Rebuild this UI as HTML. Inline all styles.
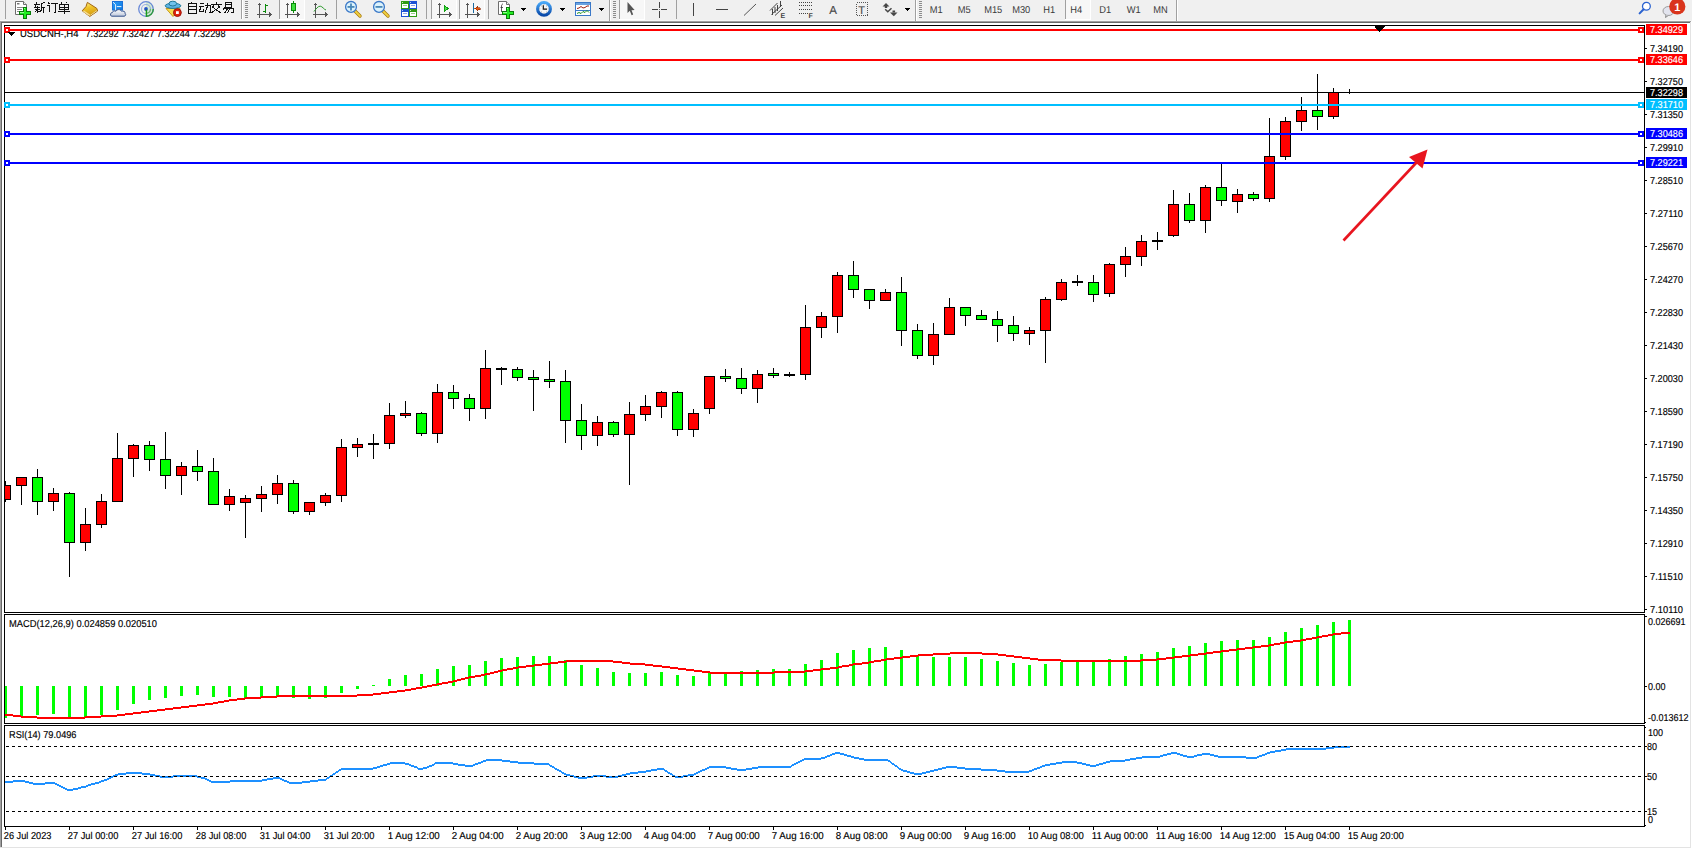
<!DOCTYPE html>
<html><head><meta charset="utf-8"><title>MT4 USDCNH H4</title>
<style>
html,body{margin:0;padding:0;background:#fff;overflow:hidden;width:1692px;height:849px}
svg{display:block;position:absolute;left:0;top:0}
text{font-family:"Liberation Sans",sans-serif;white-space:pre;stroke-width:0.15px}
</style></head><body>
<svg width="1692" height="849" viewBox="0 0 1692 849" shape-rendering="crispEdges" text-rendering="geometricPrecision">
<rect x="0" y="0" width="1692" height="849" fill="#ffffff"/>
<rect x="0" y="0" width="1692" height="21" fill="#f0f0f0"/>
<rect x="0" y="20" width="1691" height="1" fill="#f7f7f7"/>
<rect x="0" y="21" width="1691" height="1" fill="#a0a0a0"/>
<rect x="1" y="22" width="1689" height="1" fill="#696969"/>
<rect x="0" y="21" width="1" height="827" fill="#a0a0a0"/>
<rect x="1" y="22" width="1" height="825" fill="#696969"/>
<rect x="1690" y="22" width="1" height="826" fill="#e3e3e3"/>
<rect x="0" y="847" width="1691" height="1" fill="#e3e3e3"/>
<rect x="4" y="25" width="1641" height="1" fill="#000"/>
<rect x="4" y="612" width="1641" height="1" fill="#000"/>
<rect x="4" y="25" width="1" height="588" fill="#000"/>
<rect x="1644" y="25" width="1" height="588" fill="#000"/>
<rect x="4" y="614" width="1641" height="1" fill="#000"/>
<rect x="4" y="723" width="1641" height="1" fill="#000"/>
<rect x="4" y="614" width="1" height="110" fill="#000"/>
<rect x="1644" y="614" width="1" height="110" fill="#000"/>
<rect x="4" y="725" width="1641" height="1" fill="#000"/>
<rect x="4" y="826" width="1641" height="1" fill="#000"/>
<rect x="4" y="725" width="1" height="102" fill="#000"/>
<rect x="1644" y="725" width="1" height="102" fill="#000"/>
<text x="20" y="37" fill="#000" stroke="#000" font-size="10" textLength="58.5" lengthAdjust="spacingAndGlyphs" stroke-width="0.1">USDCNH-,H4</text>
<text x="85.5" y="37" fill="#000" stroke="#000" font-size="10" textLength="140" lengthAdjust="spacingAndGlyphs" stroke-width="0.1">7.32292 7.32427 7.32244 7.32298</text>
<g>
<rect x="5" y="481" width="1" height="21" fill="#000"/>
<rect x="5" y="485" width="6" height="15" fill="#000"/>
<rect x="5" y="486" width="5" height="13" fill="#ff0000"/>
<rect x="21" y="477" width="1" height="28" fill="#000"/>
<rect x="16" y="477" width="11" height="9" fill="#000"/>
<rect x="17" y="478" width="9" height="7" fill="#ff0000"/>
<rect x="37" y="469" width="1" height="46" fill="#000"/>
<rect x="32" y="477" width="11" height="25" fill="#000"/>
<rect x="33" y="478" width="9" height="23" fill="#00ff00"/>
<rect x="53" y="488" width="1" height="23" fill="#000"/>
<rect x="48" y="493" width="11" height="9" fill="#000"/>
<rect x="49" y="494" width="9" height="7" fill="#ff0000"/>
<rect x="69" y="492" width="1" height="85" fill="#000"/>
<rect x="64" y="493" width="11" height="50" fill="#000"/>
<rect x="65" y="494" width="9" height="48" fill="#00ff00"/>
<rect x="85" y="508" width="1" height="43" fill="#000"/>
<rect x="80" y="524" width="11" height="19" fill="#000"/>
<rect x="81" y="525" width="9" height="17" fill="#ff0000"/>
<rect x="101" y="494" width="1" height="34" fill="#000"/>
<rect x="96" y="501" width="11" height="24" fill="#000"/>
<rect x="97" y="502" width="9" height="22" fill="#ff0000"/>
<rect x="117" y="433" width="1" height="69" fill="#000"/>
<rect x="112" y="458" width="11" height="44" fill="#000"/>
<rect x="113" y="459" width="9" height="42" fill="#ff0000"/>
<rect x="133" y="444" width="1" height="33" fill="#000"/>
<rect x="128" y="445" width="11" height="14" fill="#000"/>
<rect x="129" y="446" width="9" height="12" fill="#ff0000"/>
<rect x="149" y="441" width="1" height="30" fill="#000"/>
<rect x="144" y="445" width="11" height="15" fill="#000"/>
<rect x="145" y="446" width="9" height="13" fill="#00ff00"/>
<rect x="165" y="432" width="1" height="57" fill="#000"/>
<rect x="160" y="459" width="11" height="17" fill="#000"/>
<rect x="161" y="460" width="9" height="15" fill="#00ff00"/>
<rect x="181" y="462" width="1" height="33" fill="#000"/>
<rect x="176" y="466" width="11" height="10" fill="#000"/>
<rect x="177" y="467" width="9" height="8" fill="#ff0000"/>
<rect x="197" y="450" width="1" height="31" fill="#000"/>
<rect x="192" y="466" width="11" height="6" fill="#000"/>
<rect x="193" y="467" width="9" height="4" fill="#00ff00"/>
<rect x="213" y="458" width="1" height="46" fill="#000"/>
<rect x="208" y="471" width="11" height="34" fill="#000"/>
<rect x="209" y="472" width="9" height="32" fill="#00ff00"/>
<rect x="229" y="489" width="1" height="22" fill="#000"/>
<rect x="224" y="496" width="11" height="9" fill="#000"/>
<rect x="225" y="497" width="9" height="7" fill="#ff0000"/>
<rect x="245" y="495" width="1" height="43" fill="#000"/>
<rect x="240" y="498" width="11" height="5" fill="#000"/>
<rect x="241" y="499" width="9" height="3" fill="#ff0000"/>
<rect x="261" y="486" width="1" height="26" fill="#000"/>
<rect x="256" y="494" width="11" height="5" fill="#000"/>
<rect x="257" y="495" width="9" height="3" fill="#ff0000"/>
<rect x="277" y="475" width="1" height="29" fill="#000"/>
<rect x="272" y="483" width="11" height="12" fill="#000"/>
<rect x="273" y="484" width="9" height="10" fill="#ff0000"/>
<rect x="293" y="480" width="1" height="34" fill="#000"/>
<rect x="288" y="483" width="11" height="29" fill="#000"/>
<rect x="289" y="484" width="9" height="27" fill="#00ff00"/>
<rect x="309" y="502" width="1" height="13" fill="#000"/>
<rect x="304" y="502" width="11" height="10" fill="#000"/>
<rect x="305" y="503" width="9" height="8" fill="#ff0000"/>
<rect x="325" y="493" width="1" height="13" fill="#000"/>
<rect x="320" y="495" width="11" height="8" fill="#000"/>
<rect x="321" y="496" width="9" height="6" fill="#ff0000"/>
<rect x="341" y="439" width="1" height="63" fill="#000"/>
<rect x="336" y="447" width="11" height="49" fill="#000"/>
<rect x="337" y="448" width="9" height="47" fill="#ff0000"/>
<rect x="357" y="438" width="1" height="19" fill="#000"/>
<rect x="352" y="444" width="11" height="4" fill="#000"/>
<rect x="353" y="445" width="9" height="2" fill="#ff0000"/>
<rect x="373" y="434" width="1" height="25" fill="#000"/>
<rect x="368" y="443" width="11" height="2" fill="#000"/>
<rect x="389" y="403" width="1" height="46" fill="#000"/>
<rect x="384" y="415" width="11" height="29" fill="#000"/>
<rect x="385" y="416" width="9" height="27" fill="#ff0000"/>
<rect x="405" y="401" width="1" height="17" fill="#000"/>
<rect x="400" y="413" width="11" height="3" fill="#000"/>
<rect x="401" y="414" width="9" height="1" fill="#ff0000"/>
<rect x="421" y="412" width="1" height="24" fill="#000"/>
<rect x="416" y="413" width="11" height="21" fill="#000"/>
<rect x="417" y="414" width="9" height="19" fill="#00ff00"/>
<rect x="437" y="384" width="1" height="59" fill="#000"/>
<rect x="432" y="392" width="11" height="42" fill="#000"/>
<rect x="433" y="393" width="9" height="40" fill="#ff0000"/>
<rect x="453" y="385" width="1" height="24" fill="#000"/>
<rect x="448" y="392" width="11" height="7" fill="#000"/>
<rect x="449" y="393" width="9" height="5" fill="#00ff00"/>
<rect x="469" y="394" width="1" height="27" fill="#000"/>
<rect x="464" y="398" width="11" height="11" fill="#000"/>
<rect x="465" y="399" width="9" height="9" fill="#00ff00"/>
<rect x="485" y="350" width="1" height="69" fill="#000"/>
<rect x="480" y="368" width="11" height="41" fill="#000"/>
<rect x="481" y="369" width="9" height="39" fill="#ff0000"/>
<rect x="501" y="367" width="1" height="18" fill="#000"/>
<rect x="496" y="368" width="11" height="2" fill="#000"/>
<rect x="517" y="367" width="1" height="14" fill="#000"/>
<rect x="512" y="369" width="11" height="9" fill="#000"/>
<rect x="513" y="370" width="9" height="7" fill="#00ff00"/>
<rect x="533" y="370" width="1" height="41" fill="#000"/>
<rect x="528" y="377" width="11" height="3" fill="#000"/>
<rect x="529" y="378" width="9" height="1" fill="#00ff00"/>
<rect x="549" y="361" width="1" height="27" fill="#000"/>
<rect x="544" y="379" width="11" height="3" fill="#000"/>
<rect x="545" y="380" width="9" height="1" fill="#00ff00"/>
<rect x="565" y="370" width="1" height="73" fill="#000"/>
<rect x="560" y="381" width="11" height="40" fill="#000"/>
<rect x="561" y="382" width="9" height="38" fill="#00ff00"/>
<rect x="581" y="404" width="1" height="46" fill="#000"/>
<rect x="576" y="420" width="11" height="16" fill="#000"/>
<rect x="577" y="421" width="9" height="14" fill="#00ff00"/>
<rect x="597" y="416" width="1" height="30" fill="#000"/>
<rect x="592" y="422" width="11" height="14" fill="#000"/>
<rect x="593" y="423" width="9" height="12" fill="#ff0000"/>
<rect x="613" y="421" width="1" height="16" fill="#000"/>
<rect x="608" y="422" width="11" height="13" fill="#000"/>
<rect x="609" y="423" width="9" height="11" fill="#00ff00"/>
<rect x="629" y="402" width="1" height="83" fill="#000"/>
<rect x="624" y="414" width="11" height="21" fill="#000"/>
<rect x="625" y="415" width="9" height="19" fill="#ff0000"/>
<rect x="645" y="395" width="1" height="26" fill="#000"/>
<rect x="640" y="406" width="11" height="9" fill="#000"/>
<rect x="641" y="407" width="9" height="7" fill="#ff0000"/>
<rect x="661" y="391" width="1" height="27" fill="#000"/>
<rect x="656" y="392" width="11" height="15" fill="#000"/>
<rect x="657" y="393" width="9" height="13" fill="#ff0000"/>
<rect x="677" y="391" width="1" height="45" fill="#000"/>
<rect x="672" y="392" width="11" height="38" fill="#000"/>
<rect x="673" y="393" width="9" height="36" fill="#00ff00"/>
<rect x="693" y="409" width="1" height="28" fill="#000"/>
<rect x="688" y="413" width="11" height="17" fill="#000"/>
<rect x="689" y="414" width="9" height="15" fill="#ff0000"/>
<rect x="709" y="376" width="1" height="38" fill="#000"/>
<rect x="704" y="376" width="11" height="33" fill="#000"/>
<rect x="705" y="377" width="9" height="31" fill="#ff0000"/>
<rect x="725" y="369" width="1" height="13" fill="#000"/>
<rect x="720" y="376" width="11" height="3" fill="#000"/>
<rect x="721" y="377" width="9" height="1" fill="#00ff00"/>
<rect x="741" y="368" width="1" height="26" fill="#000"/>
<rect x="736" y="378" width="11" height="11" fill="#000"/>
<rect x="737" y="379" width="9" height="9" fill="#00ff00"/>
<rect x="757" y="370" width="1" height="33" fill="#000"/>
<rect x="752" y="374" width="11" height="15" fill="#000"/>
<rect x="753" y="375" width="9" height="13" fill="#ff0000"/>
<rect x="773" y="368" width="1" height="10" fill="#000"/>
<rect x="768" y="373" width="11" height="3" fill="#000"/>
<rect x="769" y="374" width="9" height="1" fill="#00ff00"/>
<rect x="789" y="372" width="1" height="5" fill="#000"/>
<rect x="784" y="374" width="11" height="2" fill="#000"/>
<rect x="805" y="305" width="1" height="75" fill="#000"/>
<rect x="800" y="327" width="11" height="48" fill="#000"/>
<rect x="801" y="328" width="9" height="46" fill="#ff0000"/>
<rect x="821" y="312" width="1" height="26" fill="#000"/>
<rect x="816" y="316" width="11" height="12" fill="#000"/>
<rect x="817" y="317" width="9" height="10" fill="#ff0000"/>
<rect x="837" y="272" width="1" height="61" fill="#000"/>
<rect x="832" y="275" width="11" height="42" fill="#000"/>
<rect x="833" y="276" width="9" height="40" fill="#ff0000"/>
<rect x="853" y="261" width="1" height="37" fill="#000"/>
<rect x="848" y="275" width="11" height="15" fill="#000"/>
<rect x="849" y="276" width="9" height="13" fill="#00ff00"/>
<rect x="869" y="289" width="1" height="20" fill="#000"/>
<rect x="864" y="289" width="11" height="12" fill="#000"/>
<rect x="865" y="290" width="9" height="10" fill="#00ff00"/>
<rect x="885" y="289" width="1" height="12" fill="#000"/>
<rect x="880" y="292" width="11" height="9" fill="#000"/>
<rect x="881" y="293" width="9" height="7" fill="#ff0000"/>
<rect x="901" y="277" width="1" height="69" fill="#000"/>
<rect x="896" y="292" width="11" height="39" fill="#000"/>
<rect x="897" y="293" width="9" height="37" fill="#00ff00"/>
<rect x="917" y="324" width="1" height="35" fill="#000"/>
<rect x="912" y="330" width="11" height="26" fill="#000"/>
<rect x="913" y="331" width="9" height="24" fill="#00ff00"/>
<rect x="933" y="323" width="1" height="42" fill="#000"/>
<rect x="928" y="334" width="11" height="22" fill="#000"/>
<rect x="929" y="335" width="9" height="20" fill="#ff0000"/>
<rect x="949" y="298" width="1" height="36" fill="#000"/>
<rect x="944" y="307" width="11" height="28" fill="#000"/>
<rect x="945" y="308" width="9" height="26" fill="#ff0000"/>
<rect x="965" y="307" width="1" height="19" fill="#000"/>
<rect x="960" y="307" width="11" height="9" fill="#000"/>
<rect x="961" y="308" width="9" height="7" fill="#00ff00"/>
<rect x="981" y="310" width="1" height="10" fill="#000"/>
<rect x="976" y="315" width="11" height="5" fill="#000"/>
<rect x="977" y="316" width="9" height="3" fill="#00ff00"/>
<rect x="997" y="311" width="1" height="31" fill="#000"/>
<rect x="992" y="319" width="11" height="7" fill="#000"/>
<rect x="993" y="320" width="9" height="5" fill="#00ff00"/>
<rect x="1013" y="316" width="1" height="25" fill="#000"/>
<rect x="1008" y="325" width="11" height="9" fill="#000"/>
<rect x="1009" y="326" width="9" height="7" fill="#00ff00"/>
<rect x="1029" y="327" width="1" height="18" fill="#000"/>
<rect x="1024" y="330" width="11" height="4" fill="#000"/>
<rect x="1025" y="331" width="9" height="2" fill="#ff0000"/>
<rect x="1045" y="297" width="1" height="66" fill="#000"/>
<rect x="1040" y="299" width="11" height="32" fill="#000"/>
<rect x="1041" y="300" width="9" height="30" fill="#ff0000"/>
<rect x="1061" y="279" width="1" height="22" fill="#000"/>
<rect x="1056" y="282" width="11" height="18" fill="#000"/>
<rect x="1057" y="283" width="9" height="16" fill="#ff0000"/>
<rect x="1077" y="275" width="1" height="11" fill="#000"/>
<rect x="1072" y="281" width="11" height="2" fill="#000"/>
<rect x="1093" y="275" width="1" height="27" fill="#000"/>
<rect x="1088" y="282" width="11" height="13" fill="#000"/>
<rect x="1089" y="283" width="9" height="11" fill="#00ff00"/>
<rect x="1109" y="263" width="1" height="34" fill="#000"/>
<rect x="1104" y="264" width="11" height="30" fill="#000"/>
<rect x="1105" y="265" width="9" height="28" fill="#ff0000"/>
<rect x="1125" y="247" width="1" height="30" fill="#000"/>
<rect x="1120" y="256" width="11" height="9" fill="#000"/>
<rect x="1121" y="257" width="9" height="7" fill="#ff0000"/>
<rect x="1141" y="235" width="1" height="31" fill="#000"/>
<rect x="1136" y="241" width="11" height="16" fill="#000"/>
<rect x="1137" y="242" width="9" height="14" fill="#ff0000"/>
<rect x="1157" y="232" width="1" height="18" fill="#000"/>
<rect x="1152" y="240" width="11" height="2" fill="#000"/>
<rect x="1173" y="190" width="1" height="47" fill="#000"/>
<rect x="1168" y="204" width="11" height="32" fill="#000"/>
<rect x="1169" y="205" width="9" height="30" fill="#ff0000"/>
<rect x="1189" y="193" width="1" height="30" fill="#000"/>
<rect x="1184" y="204" width="11" height="17" fill="#000"/>
<rect x="1185" y="205" width="9" height="15" fill="#00ff00"/>
<rect x="1205" y="185" width="1" height="48" fill="#000"/>
<rect x="1200" y="187" width="11" height="34" fill="#000"/>
<rect x="1201" y="188" width="9" height="32" fill="#ff0000"/>
<rect x="1221" y="164" width="1" height="42" fill="#000"/>
<rect x="1216" y="187" width="11" height="14" fill="#000"/>
<rect x="1217" y="188" width="9" height="12" fill="#00ff00"/>
<rect x="1237" y="189" width="1" height="24" fill="#000"/>
<rect x="1232" y="194" width="11" height="8" fill="#000"/>
<rect x="1233" y="195" width="9" height="6" fill="#ff0000"/>
<rect x="1253" y="192" width="1" height="9" fill="#000"/>
<rect x="1248" y="194" width="11" height="5" fill="#000"/>
<rect x="1249" y="195" width="9" height="3" fill="#00ff00"/>
<rect x="1269" y="118" width="1" height="84" fill="#000"/>
<rect x="1264" y="156" width="11" height="43" fill="#000"/>
<rect x="1265" y="157" width="9" height="41" fill="#ff0000"/>
<rect x="1285" y="117" width="1" height="43" fill="#000"/>
<rect x="1280" y="121" width="11" height="36" fill="#000"/>
<rect x="1281" y="122" width="9" height="34" fill="#ff0000"/>
<rect x="1301" y="97" width="1" height="34" fill="#000"/>
<rect x="1296" y="110" width="11" height="12" fill="#000"/>
<rect x="1297" y="111" width="9" height="10" fill="#ff0000"/>
<rect x="1317" y="74" width="1" height="56" fill="#000"/>
<rect x="1312" y="110" width="11" height="7" fill="#000"/>
<rect x="1313" y="111" width="9" height="5" fill="#00ff00"/>
<rect x="1333" y="88" width="1" height="31" fill="#000"/>
<rect x="1328" y="92" width="11" height="25" fill="#000"/>
<rect x="1329" y="93" width="9" height="23" fill="#ff0000"/>
<rect x="1349" y="89" width="1" height="5" fill="#000"/>
<rect x="1344" y="92" width="11" height="1" fill="#000"/>
</g>
<rect x="5" y="92" width="1639" height="1" fill="#000"/>
<rect x="5" y="29" width="1639" height="2" fill="#ff0000"/>
<rect x="4" y="27" width="6" height="6" fill="#ff0000"/>
<rect x="6" y="29" width="2" height="2" fill="#fff"/>
<rect x="1638" y="27" width="6" height="6" fill="#ff0000"/>
<rect x="1640" y="29" width="2" height="2" fill="#fff"/>
<rect x="5" y="59" width="1639" height="2" fill="#ff0000"/>
<rect x="4" y="57" width="6" height="6" fill="#ff0000"/>
<rect x="6" y="59" width="2" height="2" fill="#fff"/>
<rect x="1638" y="57" width="6" height="6" fill="#ff0000"/>
<rect x="1640" y="59" width="2" height="2" fill="#fff"/>
<rect x="5" y="104" width="1639" height="2" fill="#00bfff"/>
<rect x="4" y="102" width="6" height="6" fill="#00bfff"/>
<rect x="6" y="104" width="2" height="2" fill="#fff"/>
<rect x="1638" y="102" width="6" height="6" fill="#00bfff"/>
<rect x="1640" y="104" width="2" height="2" fill="#fff"/>
<rect x="5" y="133" width="1639" height="2" fill="#0000ff"/>
<rect x="4" y="131" width="6" height="6" fill="#0000ff"/>
<rect x="6" y="133" width="2" height="2" fill="#fff"/>
<rect x="1638" y="131" width="6" height="6" fill="#0000ff"/>
<rect x="1640" y="133" width="2" height="2" fill="#fff"/>
<rect x="5" y="162" width="1639" height="2" fill="#0000ff"/>
<rect x="4" y="160" width="6" height="6" fill="#0000ff"/>
<rect x="6" y="162" width="2" height="2" fill="#fff"/>
<rect x="1638" y="160" width="6" height="6" fill="#0000ff"/>
<rect x="1640" y="162" width="2" height="2" fill="#fff"/>
<path d="M1376,25h9v2h-1v1h-1v1h-1v1h-1v1h-1v1h-1v-1h-1v-1h-1v-1h-1v-1h-1z" fill="#000"/>
<g shape-rendering="geometricPrecision"><line x1="1343.5" y1="240.5" x2="1417" y2="162" stroke="#e8151f" stroke-width="2.6"/><path d="M1427.5,149.5 L1409,157 L1422.5,168.5 Z" fill="#e8151f"/></g>
<g font-family="Liberation Sans, sans-serif">
<rect x="1645" y="48" width="2" height="1" fill="#000"/>
<text x="1650" y="52" fill="#000" stroke="#000" font-size="10" textLength="33" lengthAdjust="spacingAndGlyphs">7.34190</text>
<rect x="1645" y="81" width="2" height="1" fill="#000"/>
<text x="1650" y="85" fill="#000" stroke="#000" font-size="10" textLength="33" lengthAdjust="spacingAndGlyphs">7.32750</text>
<rect x="1645" y="114" width="2" height="1" fill="#000"/>
<text x="1650" y="118" fill="#000" stroke="#000" font-size="10" textLength="33" lengthAdjust="spacingAndGlyphs">7.31350</text>
<rect x="1645" y="147" width="2" height="1" fill="#000"/>
<text x="1650" y="151" fill="#000" stroke="#000" font-size="10" textLength="33" lengthAdjust="spacingAndGlyphs">7.29910</text>
<rect x="1645" y="180" width="2" height="1" fill="#000"/>
<text x="1650" y="184" fill="#000" stroke="#000" font-size="10" textLength="33" lengthAdjust="spacingAndGlyphs">7.28510</text>
<rect x="1645" y="213" width="2" height="1" fill="#000"/>
<text x="1650" y="217" fill="#000" stroke="#000" font-size="10" textLength="33" lengthAdjust="spacingAndGlyphs">7.27110</text>
<rect x="1645" y="246" width="2" height="1" fill="#000"/>
<text x="1650" y="250" fill="#000" stroke="#000" font-size="10" textLength="33" lengthAdjust="spacingAndGlyphs">7.25670</text>
<rect x="1645" y="279" width="2" height="1" fill="#000"/>
<text x="1650" y="283" fill="#000" stroke="#000" font-size="10" textLength="33" lengthAdjust="spacingAndGlyphs">7.24270</text>
<rect x="1645" y="312" width="2" height="1" fill="#000"/>
<text x="1650" y="316" fill="#000" stroke="#000" font-size="10" textLength="33" lengthAdjust="spacingAndGlyphs">7.22830</text>
<rect x="1645" y="345" width="2" height="1" fill="#000"/>
<text x="1650" y="349" fill="#000" stroke="#000" font-size="10" textLength="33" lengthAdjust="spacingAndGlyphs">7.21430</text>
<rect x="1645" y="378" width="2" height="1" fill="#000"/>
<text x="1650" y="382" fill="#000" stroke="#000" font-size="10" textLength="33" lengthAdjust="spacingAndGlyphs">7.20030</text>
<rect x="1645" y="411" width="2" height="1" fill="#000"/>
<text x="1650" y="415" fill="#000" stroke="#000" font-size="10" textLength="33" lengthAdjust="spacingAndGlyphs">7.18590</text>
<rect x="1645" y="444" width="2" height="1" fill="#000"/>
<text x="1650" y="448" fill="#000" stroke="#000" font-size="10" textLength="33" lengthAdjust="spacingAndGlyphs">7.17190</text>
<rect x="1645" y="477" width="2" height="1" fill="#000"/>
<text x="1650" y="481" fill="#000" stroke="#000" font-size="10" textLength="33" lengthAdjust="spacingAndGlyphs">7.15750</text>
<rect x="1645" y="510" width="2" height="1" fill="#000"/>
<text x="1650" y="514" fill="#000" stroke="#000" font-size="10" textLength="33" lengthAdjust="spacingAndGlyphs">7.14350</text>
<rect x="1645" y="543" width="2" height="1" fill="#000"/>
<text x="1650" y="547" fill="#000" stroke="#000" font-size="10" textLength="33" lengthAdjust="spacingAndGlyphs">7.12910</text>
<rect x="1645" y="576" width="2" height="1" fill="#000"/>
<text x="1650" y="580" fill="#000" stroke="#000" font-size="10" textLength="33" lengthAdjust="spacingAndGlyphs">7.11510</text>
<rect x="1645" y="609" width="2" height="1" fill="#000"/>
<text x="1650" y="613" fill="#000" stroke="#000" font-size="10" textLength="33" lengthAdjust="spacingAndGlyphs">7.10110</text>
<rect x="1646" y="24" width="41" height="11" fill="#ff0000"/>
<text x="1650" y="33" fill="#fff" stroke="#fff" font-size="10" textLength="33" lengthAdjust="spacingAndGlyphs">7.34929</text>
<rect x="1646" y="54" width="41" height="11" fill="#ff0000"/>
<text x="1650" y="63" fill="#fff" stroke="#fff" font-size="10" textLength="33" lengthAdjust="spacingAndGlyphs">7.33646</text>
<rect x="1646" y="87" width="41" height="11" fill="#000"/>
<text x="1650" y="96" fill="#fff" stroke="#fff" font-size="10" textLength="33" lengthAdjust="spacingAndGlyphs">7.32298</text>
<rect x="1646" y="99" width="41" height="11" fill="#00bfff"/>
<text x="1650" y="108" fill="#fff" stroke="#fff" font-size="10" textLength="33" lengthAdjust="spacingAndGlyphs">7.31710</text>
<rect x="1646" y="128" width="41" height="11" fill="#0000ff"/>
<text x="1650" y="137" fill="#fff" stroke="#fff" font-size="10" textLength="33" lengthAdjust="spacingAndGlyphs">7.30486</text>
<rect x="1646" y="157" width="41" height="11" fill="#0000ff"/>
<text x="1650" y="166" fill="#fff" stroke="#fff" font-size="10" textLength="33" lengthAdjust="spacingAndGlyphs">7.29221</text>
</g>
<path d="M8,32h7v1h-1v1h-1v1h-1v1h-1v-1h-1v-1h-1v-1h-1z" fill="#000"/>
<g>
<rect x="5" y="686" width="2" height="32" fill="#00ff00"/>
<rect x="20" y="686" width="3" height="30" fill="#00ff00"/>
<rect x="36" y="686" width="3" height="29" fill="#00ff00"/>
<rect x="52" y="686" width="3" height="28" fill="#00ff00"/>
<rect x="68" y="686" width="3" height="31" fill="#00ff00"/>
<rect x="84" y="686" width="3" height="31" fill="#00ff00"/>
<rect x="100" y="686" width="3" height="29" fill="#00ff00"/>
<rect x="116" y="686" width="3" height="24" fill="#00ff00"/>
<rect x="132" y="686" width="3" height="18" fill="#00ff00"/>
<rect x="148" y="686" width="3" height="14" fill="#00ff00"/>
<rect x="164" y="686" width="3" height="12" fill="#00ff00"/>
<rect x="180" y="686" width="3" height="10" fill="#00ff00"/>
<rect x="196" y="686" width="3" height="9" fill="#00ff00"/>
<rect x="212" y="686" width="3" height="11" fill="#00ff00"/>
<rect x="228" y="686" width="3" height="11" fill="#00ff00"/>
<rect x="244" y="686" width="3" height="12" fill="#00ff00"/>
<rect x="260" y="686" width="3" height="11" fill="#00ff00"/>
<rect x="276" y="686" width="3" height="10" fill="#00ff00"/>
<rect x="292" y="686" width="3" height="12" fill="#00ff00"/>
<rect x="308" y="686" width="3" height="13" fill="#00ff00"/>
<rect x="324" y="686" width="3" height="12" fill="#00ff00"/>
<rect x="340" y="686" width="3" height="7" fill="#00ff00"/>
<rect x="356" y="686" width="3" height="3" fill="#00ff00"/>
<rect x="372" y="685" width="3" height="1" fill="#00ff00"/>
<rect x="388" y="679" width="3" height="7" fill="#00ff00"/>
<rect x="404" y="675" width="3" height="11" fill="#00ff00"/>
<rect x="420" y="674" width="3" height="12" fill="#00ff00"/>
<rect x="436" y="669" width="3" height="17" fill="#00ff00"/>
<rect x="452" y="666" width="3" height="20" fill="#00ff00"/>
<rect x="468" y="665" width="3" height="21" fill="#00ff00"/>
<rect x="484" y="661" width="3" height="25" fill="#00ff00"/>
<rect x="500" y="658" width="3" height="28" fill="#00ff00"/>
<rect x="516" y="657" width="3" height="29" fill="#00ff00"/>
<rect x="532" y="656" width="3" height="30" fill="#00ff00"/>
<rect x="548" y="656" width="3" height="30" fill="#00ff00"/>
<rect x="564" y="660" width="3" height="26" fill="#00ff00"/>
<rect x="580" y="665" width="3" height="21" fill="#00ff00"/>
<rect x="596" y="668" width="3" height="18" fill="#00ff00"/>
<rect x="612" y="672" width="3" height="14" fill="#00ff00"/>
<rect x="628" y="673" width="3" height="13" fill="#00ff00"/>
<rect x="644" y="673" width="3" height="13" fill="#00ff00"/>
<rect x="660" y="672" width="3" height="14" fill="#00ff00"/>
<rect x="676" y="675" width="3" height="11" fill="#00ff00"/>
<rect x="692" y="676" width="3" height="10" fill="#00ff00"/>
<rect x="708" y="673" width="3" height="13" fill="#00ff00"/>
<rect x="724" y="673" width="3" height="13" fill="#00ff00"/>
<rect x="740" y="671" width="3" height="15" fill="#00ff00"/>
<rect x="756" y="670" width="3" height="16" fill="#00ff00"/>
<rect x="772" y="669" width="3" height="17" fill="#00ff00"/>
<rect x="788" y="669" width="3" height="17" fill="#00ff00"/>
<rect x="804" y="664" width="3" height="22" fill="#00ff00"/>
<rect x="820" y="660" width="3" height="26" fill="#00ff00"/>
<rect x="836" y="653" width="3" height="33" fill="#00ff00"/>
<rect x="852" y="650" width="3" height="36" fill="#00ff00"/>
<rect x="868" y="648" width="3" height="38" fill="#00ff00"/>
<rect x="884" y="647" width="3" height="39" fill="#00ff00"/>
<rect x="900" y="650" width="3" height="36" fill="#00ff00"/>
<rect x="916" y="655" width="3" height="31" fill="#00ff00"/>
<rect x="932" y="657" width="3" height="29" fill="#00ff00"/>
<rect x="948" y="657" width="3" height="29" fill="#00ff00"/>
<rect x="964" y="657" width="3" height="29" fill="#00ff00"/>
<rect x="980" y="659" width="3" height="27" fill="#00ff00"/>
<rect x="996" y="661" width="3" height="25" fill="#00ff00"/>
<rect x="1012" y="663" width="3" height="23" fill="#00ff00"/>
<rect x="1028" y="665" width="3" height="21" fill="#00ff00"/>
<rect x="1044" y="664" width="3" height="22" fill="#00ff00"/>
<rect x="1060" y="662" width="3" height="24" fill="#00ff00"/>
<rect x="1076" y="661" width="3" height="25" fill="#00ff00"/>
<rect x="1092" y="661" width="3" height="25" fill="#00ff00"/>
<rect x="1108" y="659" width="3" height="27" fill="#00ff00"/>
<rect x="1124" y="656" width="3" height="30" fill="#00ff00"/>
<rect x="1140" y="654" width="3" height="32" fill="#00ff00"/>
<rect x="1156" y="652" width="3" height="34" fill="#00ff00"/>
<rect x="1172" y="648" width="3" height="38" fill="#00ff00"/>
<rect x="1188" y="646" width="3" height="40" fill="#00ff00"/>
<rect x="1204" y="643" width="3" height="43" fill="#00ff00"/>
<rect x="1220" y="641" width="3" height="45" fill="#00ff00"/>
<rect x="1236" y="640" width="3" height="46" fill="#00ff00"/>
<rect x="1252" y="640" width="3" height="46" fill="#00ff00"/>
<rect x="1268" y="637" width="3" height="49" fill="#00ff00"/>
<rect x="1284" y="632" width="3" height="54" fill="#00ff00"/>
<rect x="1300" y="628" width="3" height="58" fill="#00ff00"/>
<rect x="1316" y="625" width="3" height="61" fill="#00ff00"/>
<rect x="1332" y="622" width="3" height="64" fill="#00ff00"/>
<rect x="1348" y="620" width="3" height="66" fill="#00ff00"/>
<clipPath id="cm"><rect x="5" y="615" width="1639" height="108"/></clipPath>
<rect x="5" y="714" width="8" height="2" fill="#ff0000"/>
<rect x="13" y="715" width="8" height="2" fill="#ff0000"/>
<rect x="21" y="716" width="16" height="2" fill="#ff0000"/>
<rect x="37" y="717" width="48" height="2" fill="#ff0000"/>
<rect x="85" y="716" width="16" height="2" fill="#ff0000"/>
<rect x="101" y="715" width="16" height="2" fill="#ff0000"/>
<rect x="117" y="714" width="8" height="2" fill="#ff0000"/>
<rect x="125" y="713" width="8" height="2" fill="#ff0000"/>
<rect x="133" y="712" width="8" height="2" fill="#ff0000"/>
<rect x="141" y="711" width="8" height="2" fill="#ff0000"/>
<rect x="149" y="710" width="8" height="2" fill="#ff0000"/>
<rect x="157" y="709" width="8" height="2" fill="#ff0000"/>
<rect x="165" y="708" width="8" height="2" fill="#ff0000"/>
<rect x="173" y="707" width="8" height="2" fill="#ff0000"/>
<rect x="181" y="706" width="8" height="2" fill="#ff0000"/>
<rect x="189" y="705" width="8" height="2" fill="#ff0000"/>
<rect x="197" y="704" width="8" height="2" fill="#ff0000"/>
<rect x="205" y="703" width="8" height="2" fill="#ff0000"/>
<rect x="213" y="702" width="5" height="2" fill="#ff0000"/>
<rect x="218" y="701" width="6" height="2" fill="#ff0000"/>
<rect x="224" y="700" width="5" height="2" fill="#ff0000"/>
<rect x="229" y="699" width="8" height="2" fill="#ff0000"/>
<rect x="237" y="698" width="8" height="2" fill="#ff0000"/>
<rect x="245" y="697" width="16" height="2" fill="#ff0000"/>
<rect x="261" y="696" width="16" height="2" fill="#ff0000"/>
<rect x="277" y="695" width="80" height="2" fill="#ff0000"/>
<rect x="357" y="694" width="16" height="2" fill="#ff0000"/>
<rect x="373" y="693" width="8" height="2" fill="#ff0000"/>
<rect x="381" y="692" width="8" height="2" fill="#ff0000"/>
<rect x="389" y="691" width="8" height="2" fill="#ff0000"/>
<rect x="397" y="690" width="8" height="2" fill="#ff0000"/>
<rect x="405" y="689" width="6" height="2" fill="#ff0000"/>
<rect x="411" y="688" width="5" height="2" fill="#ff0000"/>
<rect x="416" y="687" width="6" height="2" fill="#ff0000"/>
<rect x="422" y="686" width="5" height="2" fill="#ff0000"/>
<rect x="427" y="685" width="5" height="2" fill="#ff0000"/>
<rect x="432" y="684" width="5" height="2" fill="#ff0000"/>
<rect x="437" y="683" width="5" height="2" fill="#ff0000"/>
<rect x="442" y="682" width="6" height="2" fill="#ff0000"/>
<rect x="448" y="681" width="5" height="2" fill="#ff0000"/>
<rect x="453" y="680" width="4" height="2" fill="#ff0000"/>
<rect x="457" y="679" width="4" height="2" fill="#ff0000"/>
<rect x="461" y="678" width="4" height="2" fill="#ff0000"/>
<rect x="465" y="677" width="4" height="2" fill="#ff0000"/>
<rect x="469" y="676" width="6" height="2" fill="#ff0000"/>
<rect x="475" y="675" width="6" height="2" fill="#ff0000"/>
<rect x="481" y="674" width="4" height="2" fill="#ff0000"/>
<rect x="485" y="673" width="5" height="2" fill="#ff0000"/>
<rect x="490" y="672" width="4" height="2" fill="#ff0000"/>
<rect x="494" y="671" width="4" height="2" fill="#ff0000"/>
<rect x="498" y="670" width="4" height="2" fill="#ff0000"/>
<rect x="502" y="669" width="5" height="2" fill="#ff0000"/>
<rect x="507" y="668" width="6" height="2" fill="#ff0000"/>
<rect x="513" y="667" width="5" height="2" fill="#ff0000"/>
<rect x="518" y="666" width="8" height="2" fill="#ff0000"/>
<rect x="526" y="665" width="8" height="2" fill="#ff0000"/>
<rect x="534" y="664" width="8" height="2" fill="#ff0000"/>
<rect x="542" y="663" width="8" height="2" fill="#ff0000"/>
<rect x="550" y="662" width="8" height="2" fill="#ff0000"/>
<rect x="558" y="661" width="8" height="2" fill="#ff0000"/>
<rect x="566" y="660" width="47" height="2" fill="#ff0000"/>
<rect x="613" y="661" width="9" height="2" fill="#ff0000"/>
<rect x="622" y="662" width="8" height="2" fill="#ff0000"/>
<rect x="630" y="663" width="15" height="2" fill="#ff0000"/>
<rect x="645" y="664" width="8" height="2" fill="#ff0000"/>
<rect x="653" y="665" width="9" height="2" fill="#ff0000"/>
<rect x="662" y="666" width="8" height="2" fill="#ff0000"/>
<rect x="670" y="667" width="8" height="2" fill="#ff0000"/>
<rect x="678" y="668" width="8" height="2" fill="#ff0000"/>
<rect x="686" y="669" width="8" height="2" fill="#ff0000"/>
<rect x="694" y="670" width="8" height="2" fill="#ff0000"/>
<rect x="702" y="671" width="8" height="2" fill="#ff0000"/>
<rect x="710" y="672" width="64" height="2" fill="#ff0000"/>
<rect x="774" y="671" width="31" height="2" fill="#ff0000"/>
<rect x="805" y="670" width="8" height="2" fill="#ff0000"/>
<rect x="813" y="669" width="8" height="2" fill="#ff0000"/>
<rect x="821" y="668" width="9" height="2" fill="#ff0000"/>
<rect x="830" y="667" width="8" height="2" fill="#ff0000"/>
<rect x="838" y="666" width="4" height="2" fill="#ff0000"/>
<rect x="842" y="665" width="7" height="2" fill="#ff0000"/>
<rect x="849" y="664" width="4" height="2" fill="#ff0000"/>
<rect x="853" y="663" width="9" height="2" fill="#ff0000"/>
<rect x="862" y="662" width="7" height="2" fill="#ff0000"/>
<rect x="869" y="661" width="5" height="2" fill="#ff0000"/>
<rect x="874" y="660" width="7" height="2" fill="#ff0000"/>
<rect x="881" y="659" width="5" height="2" fill="#ff0000"/>
<rect x="886" y="658" width="8" height="2" fill="#ff0000"/>
<rect x="894" y="657" width="8" height="2" fill="#ff0000"/>
<rect x="902" y="656" width="8" height="2" fill="#ff0000"/>
<rect x="910" y="655" width="8" height="2" fill="#ff0000"/>
<rect x="918" y="654" width="15" height="2" fill="#ff0000"/>
<rect x="933" y="653" width="17" height="2" fill="#ff0000"/>
<rect x="950" y="652" width="32" height="2" fill="#ff0000"/>
<rect x="982" y="653" width="16" height="2" fill="#ff0000"/>
<rect x="998" y="654" width="8" height="2" fill="#ff0000"/>
<rect x="1006" y="655" width="8" height="2" fill="#ff0000"/>
<rect x="1014" y="656" width="8" height="2" fill="#ff0000"/>
<rect x="1022" y="657" width="8" height="2" fill="#ff0000"/>
<rect x="1030" y="658" width="8" height="2" fill="#ff0000"/>
<rect x="1038" y="659" width="23" height="2" fill="#ff0000"/>
<rect x="1061" y="660" width="80" height="2" fill="#ff0000"/>
<rect x="1141" y="659" width="16" height="2" fill="#ff0000"/>
<rect x="1157" y="658" width="9" height="2" fill="#ff0000"/>
<rect x="1166" y="657" width="8" height="2" fill="#ff0000"/>
<rect x="1174" y="656" width="8" height="2" fill="#ff0000"/>
<rect x="1182" y="655" width="8" height="2" fill="#ff0000"/>
<rect x="1190" y="654" width="8" height="2" fill="#ff0000"/>
<rect x="1198" y="653" width="8" height="2" fill="#ff0000"/>
<rect x="1206" y="652" width="7" height="2" fill="#ff0000"/>
<rect x="1213" y="651" width="8" height="2" fill="#ff0000"/>
<rect x="1221" y="650" width="8" height="2" fill="#ff0000"/>
<rect x="1229" y="649" width="8" height="2" fill="#ff0000"/>
<rect x="1237" y="648" width="8" height="2" fill="#ff0000"/>
<rect x="1245" y="647" width="8" height="2" fill="#ff0000"/>
<rect x="1253" y="646" width="8" height="2" fill="#ff0000"/>
<rect x="1261" y="645" width="8" height="2" fill="#ff0000"/>
<rect x="1269" y="644" width="5" height="2" fill="#ff0000"/>
<rect x="1274" y="643" width="6" height="2" fill="#ff0000"/>
<rect x="1280" y="642" width="5" height="2" fill="#ff0000"/>
<rect x="1285" y="641" width="8" height="2" fill="#ff0000"/>
<rect x="1293" y="640" width="8" height="2" fill="#ff0000"/>
<rect x="1301" y="639" width="5" height="2" fill="#ff0000"/>
<rect x="1306" y="638" width="6" height="2" fill="#ff0000"/>
<rect x="1312" y="637" width="5" height="2" fill="#ff0000"/>
<rect x="1317" y="636" width="5" height="2" fill="#ff0000"/>
<rect x="1322" y="635" width="6" height="2" fill="#ff0000"/>
<rect x="1328" y="634" width="5" height="2" fill="#ff0000"/>
<rect x="1333" y="633" width="8" height="2" fill="#ff0000"/>
<rect x="1341" y="632" width="9" height="2" fill="#ff0000"/>
</g>
<g font-family="Liberation Sans, sans-serif">
<text x="9" y="627" fill="#000" stroke="#000" font-size="10" textLength="148" lengthAdjust="spacingAndGlyphs">MACD(12,26,9) 0.024859 0.020510</text>
<rect x="1645" y="616" width="2" height="1" fill="#000"/>
<rect x="1645" y="686" width="2" height="1" fill="#000"/>
<rect x="1645" y="722" width="1" height="1" fill="#000"/>
<text x="1648" y="625" fill="#000" stroke="#000" font-size="10" textLength="37.5" lengthAdjust="spacingAndGlyphs">0.026691</text>
<text transform="translate(1648,690) scale(0.9,1)" fill="#000" stroke="#000" font-size="10">0.00</text>
<text x="1648" y="721" fill="#000" stroke="#000" font-size="10" textLength="40.5" lengthAdjust="spacingAndGlyphs">-0.013612</text>
</g>
<rect x="5" y="781" width="8" height="2" fill="#1e90ff"/>
<rect x="13" y="780" width="12" height="2" fill="#1e90ff"/>
<rect x="25" y="781" width="4" height="2" fill="#1e90ff"/>
<rect x="29" y="782" width="4" height="2" fill="#1e90ff"/>
<rect x="33" y="783" width="12" height="2" fill="#1e90ff"/>
<rect x="45" y="782" width="10" height="2" fill="#1e90ff"/>
<rect x="55" y="783" width="2" height="2" fill="#1e90ff"/>
<rect x="57" y="784" width="2" height="2" fill="#1e90ff"/>
<rect x="59" y="785" width="2" height="2" fill="#1e90ff"/>
<rect x="61" y="786" width="2" height="2" fill="#1e90ff"/>
<rect x="63" y="787" width="2" height="2" fill="#1e90ff"/>
<rect x="65" y="788" width="2" height="2" fill="#1e90ff"/>
<rect x="67" y="789" width="6" height="2" fill="#1e90ff"/>
<rect x="73" y="788" width="5" height="2" fill="#1e90ff"/>
<rect x="78" y="787" width="3" height="2" fill="#1e90ff"/>
<rect x="81" y="786" width="5" height="2" fill="#1e90ff"/>
<rect x="86" y="785" width="2" height="2" fill="#1e90ff"/>
<rect x="88" y="784" width="3" height="2" fill="#1e90ff"/>
<rect x="91" y="783" width="4" height="2" fill="#1e90ff"/>
<rect x="95" y="782" width="4" height="2" fill="#1e90ff"/>
<rect x="99" y="781" width="2" height="2" fill="#1e90ff"/>
<rect x="101" y="780" width="3" height="2" fill="#1e90ff"/>
<rect x="104" y="779" width="3" height="2" fill="#1e90ff"/>
<rect x="107" y="778" width="2" height="2" fill="#1e90ff"/>
<rect x="109" y="777" width="2" height="2" fill="#1e90ff"/>
<rect x="111" y="776" width="2" height="2" fill="#1e90ff"/>
<rect x="113" y="775" width="2" height="2" fill="#1e90ff"/>
<rect x="115" y="774" width="3" height="2" fill="#1e90ff"/>
<rect x="118" y="773" width="8" height="2" fill="#1e90ff"/>
<rect x="126" y="772" width="16" height="2" fill="#1e90ff"/>
<rect x="142" y="773" width="8" height="2" fill="#1e90ff"/>
<rect x="150" y="774" width="5" height="2" fill="#1e90ff"/>
<rect x="155" y="775" width="5" height="2" fill="#1e90ff"/>
<rect x="160" y="776" width="13" height="2" fill="#1e90ff"/>
<rect x="173" y="775" width="24" height="2" fill="#1e90ff"/>
<rect x="197" y="776" width="4" height="2" fill="#1e90ff"/>
<rect x="201" y="777" width="4" height="2" fill="#1e90ff"/>
<rect x="205" y="778" width="2" height="2" fill="#1e90ff"/>
<rect x="207" y="779" width="2" height="2" fill="#1e90ff"/>
<rect x="209" y="780" width="2" height="2" fill="#1e90ff"/>
<rect x="211" y="781" width="19" height="2" fill="#1e90ff"/>
<rect x="230" y="780" width="32" height="2" fill="#1e90ff"/>
<rect x="262" y="779" width="5" height="2" fill="#1e90ff"/>
<rect x="267" y="778" width="6" height="2" fill="#1e90ff"/>
<rect x="273" y="777" width="7" height="2" fill="#1e90ff"/>
<rect x="280" y="778" width="2" height="2" fill="#1e90ff"/>
<rect x="282" y="779" width="2" height="2" fill="#1e90ff"/>
<rect x="284" y="780" width="3" height="2" fill="#1e90ff"/>
<rect x="287" y="781" width="2" height="2" fill="#1e90ff"/>
<rect x="289" y="782" width="13" height="2" fill="#1e90ff"/>
<rect x="302" y="781" width="8" height="2" fill="#1e90ff"/>
<rect x="310" y="780" width="8" height="2" fill="#1e90ff"/>
<rect x="318" y="779" width="8" height="2" fill="#1e90ff"/>
<rect x="326" y="778" width="1" height="2" fill="#1e90ff"/>
<rect x="327" y="777" width="2" height="2" fill="#1e90ff"/>
<rect x="329" y="776" width="1" height="2" fill="#1e90ff"/>
<rect x="330" y="775" width="2" height="2" fill="#1e90ff"/>
<rect x="332" y="774" width="1" height="2" fill="#1e90ff"/>
<rect x="333" y="773" width="2" height="2" fill="#1e90ff"/>
<rect x="335" y="772" width="1" height="2" fill="#1e90ff"/>
<rect x="336" y="771" width="2" height="2" fill="#1e90ff"/>
<rect x="338" y="770" width="1" height="2" fill="#1e90ff"/>
<rect x="339" y="769" width="2" height="2" fill="#1e90ff"/>
<rect x="341" y="768" width="32" height="2" fill="#1e90ff"/>
<rect x="373" y="767" width="4" height="2" fill="#1e90ff"/>
<rect x="377" y="766" width="3" height="2" fill="#1e90ff"/>
<rect x="380" y="765" width="3" height="2" fill="#1e90ff"/>
<rect x="383" y="764" width="4" height="2" fill="#1e90ff"/>
<rect x="387" y="763" width="3" height="2" fill="#1e90ff"/>
<rect x="390" y="762" width="15" height="2" fill="#1e90ff"/>
<rect x="405" y="763" width="4" height="2" fill="#1e90ff"/>
<rect x="409" y="764" width="2" height="2" fill="#1e90ff"/>
<rect x="411" y="765" width="3" height="2" fill="#1e90ff"/>
<rect x="414" y="766" width="3" height="2" fill="#1e90ff"/>
<rect x="417" y="767" width="1" height="2" fill="#1e90ff"/>
<rect x="418" y="768" width="5" height="2" fill="#1e90ff"/>
<rect x="423" y="767" width="4" height="2" fill="#1e90ff"/>
<rect x="427" y="766" width="2" height="2" fill="#1e90ff"/>
<rect x="429" y="765" width="3" height="2" fill="#1e90ff"/>
<rect x="432" y="764" width="2" height="2" fill="#1e90ff"/>
<rect x="434" y="763" width="1" height="2" fill="#1e90ff"/>
<rect x="435" y="762" width="18" height="2" fill="#1e90ff"/>
<rect x="453" y="763" width="5" height="2" fill="#1e90ff"/>
<rect x="458" y="764" width="7" height="2" fill="#1e90ff"/>
<rect x="465" y="765" width="8" height="2" fill="#1e90ff"/>
<rect x="473" y="764" width="2" height="2" fill="#1e90ff"/>
<rect x="475" y="763" width="3" height="2" fill="#1e90ff"/>
<rect x="478" y="762" width="3" height="2" fill="#1e90ff"/>
<rect x="481" y="761" width="2" height="2" fill="#1e90ff"/>
<rect x="483" y="760" width="3" height="2" fill="#1e90ff"/>
<rect x="486" y="759" width="16" height="2" fill="#1e90ff"/>
<rect x="502" y="760" width="8" height="2" fill="#1e90ff"/>
<rect x="510" y="761" width="8" height="2" fill="#1e90ff"/>
<rect x="518" y="762" width="16" height="2" fill="#1e90ff"/>
<rect x="534" y="763" width="15" height="2" fill="#1e90ff"/>
<rect x="549" y="764" width="1" height="2" fill="#1e90ff"/>
<rect x="550" y="765" width="2" height="2" fill="#1e90ff"/>
<rect x="552" y="766" width="2" height="2" fill="#1e90ff"/>
<rect x="554" y="767" width="1" height="2" fill="#1e90ff"/>
<rect x="555" y="768" width="2" height="2" fill="#1e90ff"/>
<rect x="557" y="769" width="2" height="2" fill="#1e90ff"/>
<rect x="559" y="770" width="2" height="2" fill="#1e90ff"/>
<rect x="561" y="771" width="1" height="2" fill="#1e90ff"/>
<rect x="562" y="772" width="2" height="2" fill="#1e90ff"/>
<rect x="564" y="773" width="2" height="2" fill="#1e90ff"/>
<rect x="566" y="774" width="4" height="2" fill="#1e90ff"/>
<rect x="570" y="775" width="4" height="2" fill="#1e90ff"/>
<rect x="574" y="776" width="4" height="2" fill="#1e90ff"/>
<rect x="578" y="777" width="9" height="2" fill="#1e90ff"/>
<rect x="587" y="776" width="6" height="2" fill="#1e90ff"/>
<rect x="593" y="775" width="13" height="2" fill="#1e90ff"/>
<rect x="606" y="776" width="12" height="2" fill="#1e90ff"/>
<rect x="618" y="775" width="4" height="2" fill="#1e90ff"/>
<rect x="622" y="774" width="4" height="2" fill="#1e90ff"/>
<rect x="626" y="773" width="4" height="2" fill="#1e90ff"/>
<rect x="630" y="772" width="8" height="2" fill="#1e90ff"/>
<rect x="638" y="771" width="8" height="2" fill="#1e90ff"/>
<rect x="646" y="770" width="5" height="2" fill="#1e90ff"/>
<rect x="651" y="769" width="6" height="2" fill="#1e90ff"/>
<rect x="657" y="768" width="7" height="2" fill="#1e90ff"/>
<rect x="664" y="769" width="1" height="2" fill="#1e90ff"/>
<rect x="665" y="770" width="2" height="2" fill="#1e90ff"/>
<rect x="667" y="771" width="1" height="2" fill="#1e90ff"/>
<rect x="668" y="772" width="2" height="2" fill="#1e90ff"/>
<rect x="670" y="773" width="2" height="2" fill="#1e90ff"/>
<rect x="672" y="774" width="1" height="2" fill="#1e90ff"/>
<rect x="673" y="775" width="2" height="2" fill="#1e90ff"/>
<rect x="675" y="776" width="8" height="2" fill="#1e90ff"/>
<rect x="683" y="775" width="5" height="2" fill="#1e90ff"/>
<rect x="688" y="774" width="6" height="2" fill="#1e90ff"/>
<rect x="694" y="773" width="2" height="2" fill="#1e90ff"/>
<rect x="696" y="772" width="2" height="2" fill="#1e90ff"/>
<rect x="698" y="771" width="2" height="2" fill="#1e90ff"/>
<rect x="700" y="770" width="2" height="2" fill="#1e90ff"/>
<rect x="702" y="769" width="3" height="2" fill="#1e90ff"/>
<rect x="705" y="768" width="2" height="2" fill="#1e90ff"/>
<rect x="707" y="767" width="2" height="2" fill="#1e90ff"/>
<rect x="709" y="766" width="17" height="2" fill="#1e90ff"/>
<rect x="726" y="767" width="5" height="2" fill="#1e90ff"/>
<rect x="731" y="768" width="6" height="2" fill="#1e90ff"/>
<rect x="737" y="769" width="9" height="2" fill="#1e90ff"/>
<rect x="746" y="768" width="6" height="2" fill="#1e90ff"/>
<rect x="752" y="767" width="6" height="2" fill="#1e90ff"/>
<rect x="758" y="766" width="33" height="2" fill="#1e90ff"/>
<rect x="791" y="765" width="1" height="2" fill="#1e90ff"/>
<rect x="792" y="764" width="2" height="2" fill="#1e90ff"/>
<rect x="794" y="763" width="2" height="2" fill="#1e90ff"/>
<rect x="796" y="762" width="2" height="2" fill="#1e90ff"/>
<rect x="798" y="761" width="2" height="2" fill="#1e90ff"/>
<rect x="800" y="760" width="2" height="2" fill="#1e90ff"/>
<rect x="802" y="759" width="2" height="2" fill="#1e90ff"/>
<rect x="804" y="758" width="17" height="2" fill="#1e90ff"/>
<rect x="821" y="757" width="4" height="2" fill="#1e90ff"/>
<rect x="825" y="756" width="2" height="2" fill="#1e90ff"/>
<rect x="827" y="755" width="3" height="2" fill="#1e90ff"/>
<rect x="830" y="754" width="2" height="2" fill="#1e90ff"/>
<rect x="832" y="753" width="3" height="2" fill="#1e90ff"/>
<rect x="835" y="752" width="5" height="2" fill="#1e90ff"/>
<rect x="840" y="753" width="4" height="2" fill="#1e90ff"/>
<rect x="844" y="754" width="3" height="2" fill="#1e90ff"/>
<rect x="847" y="755" width="4" height="2" fill="#1e90ff"/>
<rect x="851" y="756" width="3" height="2" fill="#1e90ff"/>
<rect x="854" y="757" width="5" height="2" fill="#1e90ff"/>
<rect x="859" y="758" width="5" height="2" fill="#1e90ff"/>
<rect x="864" y="759" width="24" height="2" fill="#1e90ff"/>
<rect x="888" y="760" width="2" height="2" fill="#1e90ff"/>
<rect x="890" y="761" width="1" height="2" fill="#1e90ff"/>
<rect x="891" y="762" width="1" height="2" fill="#1e90ff"/>
<rect x="892" y="763" width="2" height="2" fill="#1e90ff"/>
<rect x="894" y="764" width="1" height="2" fill="#1e90ff"/>
<rect x="895" y="765" width="2" height="2" fill="#1e90ff"/>
<rect x="897" y="766" width="1" height="2" fill="#1e90ff"/>
<rect x="898" y="767" width="1" height="2" fill="#1e90ff"/>
<rect x="899" y="768" width="2" height="2" fill="#1e90ff"/>
<rect x="901" y="769" width="2" height="2" fill="#1e90ff"/>
<rect x="903" y="770" width="4" height="2" fill="#1e90ff"/>
<rect x="907" y="771" width="3" height="2" fill="#1e90ff"/>
<rect x="910" y="772" width="4" height="2" fill="#1e90ff"/>
<rect x="914" y="773" width="8" height="2" fill="#1e90ff"/>
<rect x="922" y="772" width="4" height="2" fill="#1e90ff"/>
<rect x="926" y="771" width="4" height="2" fill="#1e90ff"/>
<rect x="930" y="770" width="4" height="2" fill="#1e90ff"/>
<rect x="934" y="769" width="4" height="2" fill="#1e90ff"/>
<rect x="938" y="768" width="4" height="2" fill="#1e90ff"/>
<rect x="942" y="767" width="4" height="2" fill="#1e90ff"/>
<rect x="946" y="766" width="11" height="2" fill="#1e90ff"/>
<rect x="957" y="767" width="8" height="2" fill="#1e90ff"/>
<rect x="965" y="768" width="16" height="2" fill="#1e90ff"/>
<rect x="981" y="769" width="16" height="2" fill="#1e90ff"/>
<rect x="997" y="770" width="8" height="2" fill="#1e90ff"/>
<rect x="1005" y="771" width="24" height="2" fill="#1e90ff"/>
<rect x="1029" y="770" width="3" height="2" fill="#1e90ff"/>
<rect x="1032" y="769" width="2" height="2" fill="#1e90ff"/>
<rect x="1034" y="768" width="3" height="2" fill="#1e90ff"/>
<rect x="1037" y="767" width="3" height="2" fill="#1e90ff"/>
<rect x="1040" y="766" width="2" height="2" fill="#1e90ff"/>
<rect x="1042" y="765" width="3" height="2" fill="#1e90ff"/>
<rect x="1045" y="764" width="5" height="2" fill="#1e90ff"/>
<rect x="1050" y="763" width="6" height="2" fill="#1e90ff"/>
<rect x="1056" y="762" width="6" height="2" fill="#1e90ff"/>
<rect x="1062" y="761" width="15" height="2" fill="#1e90ff"/>
<rect x="1077" y="762" width="5" height="2" fill="#1e90ff"/>
<rect x="1082" y="763" width="4" height="2" fill="#1e90ff"/>
<rect x="1086" y="764" width="4" height="2" fill="#1e90ff"/>
<rect x="1090" y="765" width="6" height="2" fill="#1e90ff"/>
<rect x="1096" y="764" width="3" height="2" fill="#1e90ff"/>
<rect x="1099" y="763" width="4" height="2" fill="#1e90ff"/>
<rect x="1103" y="762" width="3" height="2" fill="#1e90ff"/>
<rect x="1106" y="761" width="4" height="2" fill="#1e90ff"/>
<rect x="1110" y="760" width="15" height="2" fill="#1e90ff"/>
<rect x="1125" y="759" width="5" height="2" fill="#1e90ff"/>
<rect x="1130" y="758" width="6" height="2" fill="#1e90ff"/>
<rect x="1136" y="757" width="6" height="2" fill="#1e90ff"/>
<rect x="1142" y="756" width="18" height="2" fill="#1e90ff"/>
<rect x="1160" y="755" width="3" height="2" fill="#1e90ff"/>
<rect x="1163" y="754" width="4" height="2" fill="#1e90ff"/>
<rect x="1167" y="753" width="4" height="2" fill="#1e90ff"/>
<rect x="1171" y="752" width="6" height="2" fill="#1e90ff"/>
<rect x="1177" y="753" width="3" height="2" fill="#1e90ff"/>
<rect x="1180" y="754" width="3" height="2" fill="#1e90ff"/>
<rect x="1183" y="755" width="4" height="2" fill="#1e90ff"/>
<rect x="1187" y="756" width="7" height="2" fill="#1e90ff"/>
<rect x="1194" y="755" width="3" height="2" fill="#1e90ff"/>
<rect x="1197" y="754" width="5" height="2" fill="#1e90ff"/>
<rect x="1202" y="753" width="8" height="2" fill="#1e90ff"/>
<rect x="1210" y="754" width="4" height="2" fill="#1e90ff"/>
<rect x="1214" y="755" width="4" height="2" fill="#1e90ff"/>
<rect x="1218" y="756" width="28" height="2" fill="#1e90ff"/>
<rect x="1246" y="757" width="11" height="2" fill="#1e90ff"/>
<rect x="1257" y="756" width="2" height="2" fill="#1e90ff"/>
<rect x="1259" y="755" width="3" height="2" fill="#1e90ff"/>
<rect x="1262" y="754" width="3" height="2" fill="#1e90ff"/>
<rect x="1265" y="753" width="2" height="2" fill="#1e90ff"/>
<rect x="1267" y="752" width="3" height="2" fill="#1e90ff"/>
<rect x="1270" y="751" width="5" height="2" fill="#1e90ff"/>
<rect x="1275" y="750" width="6" height="2" fill="#1e90ff"/>
<rect x="1281" y="749" width="5" height="2" fill="#1e90ff"/>
<rect x="1286" y="748" width="40" height="2" fill="#1e90ff"/>
<rect x="1326" y="747" width="8" height="2" fill="#1e90ff"/>
<rect x="1334" y="746" width="16" height="2" fill="#1e90ff"/>
<line x1="6" y1="746.5" x2="1641" y2="746.5" stroke="#000" stroke-width="1" stroke-dasharray="3 3"/>
<line x1="6" y1="776.5" x2="1641" y2="776.5" stroke="#000" stroke-width="1" stroke-dasharray="3 3"/>
<line x1="6" y1="811.5" x2="1641" y2="811.5" stroke="#000" stroke-width="1" stroke-dasharray="3 3"/>
<g font-family="Liberation Sans, sans-serif">
<text x="9" y="738" fill="#000" stroke="#000" font-size="10" textLength="67.5" lengthAdjust="spacingAndGlyphs">RSI(14) 79.0496</text>
<rect x="1645" y="727" width="1" height="1" fill="#000"/>
<rect x="1645" y="746" width="2" height="1" fill="#000"/>
<rect x="1645" y="776" width="2" height="1" fill="#000"/>
<rect x="1645" y="811" width="2" height="1" fill="#000"/>
<rect x="1645" y="825" width="1" height="1" fill="#000"/>
<text transform="translate(1648,736) scale(0.9,1)" fill="#000" stroke="#000" font-size="10">100</text>
<text transform="translate(1647,750) scale(0.9,1)" fill="#000" stroke="#000" font-size="10">80</text>
<text transform="translate(1647,780) scale(0.9,1)" fill="#000" stroke="#000" font-size="10">50</text>
<text transform="translate(1647,815) scale(0.9,1)" fill="#000" stroke="#000" font-size="10">15</text>
<text transform="translate(1648,823) scale(0.9,1)" fill="#000" stroke="#000" font-size="10">0</text>
<rect x="5" y="827" width="1" height="3" fill="#000"/>
<text x="3.8" y="839" fill="#000" stroke="#000" font-size="10" textLength="47.6" lengthAdjust="spacingAndGlyphs">26 Jul 2023</text>
<rect x="69" y="827" width="1" height="3" fill="#000"/>
<text x="67.8" y="839" fill="#000" stroke="#000" font-size="10" textLength="50.6" lengthAdjust="spacingAndGlyphs">27 Jul 00:00</text>
<rect x="133" y="827" width="1" height="3" fill="#000"/>
<text x="131.8" y="839" fill="#000" stroke="#000" font-size="10" textLength="50.6" lengthAdjust="spacingAndGlyphs">27 Jul 16:00</text>
<rect x="197" y="827" width="1" height="3" fill="#000"/>
<text x="195.8" y="839" fill="#000" stroke="#000" font-size="10" textLength="50.6" lengthAdjust="spacingAndGlyphs">28 Jul 08:00</text>
<rect x="261" y="827" width="1" height="3" fill="#000"/>
<text x="259.8" y="839" fill="#000" stroke="#000" font-size="10" textLength="50.6" lengthAdjust="spacingAndGlyphs">31 Jul 04:00</text>
<rect x="325" y="827" width="1" height="3" fill="#000"/>
<text x="323.8" y="839" fill="#000" stroke="#000" font-size="10" textLength="50.6" lengthAdjust="spacingAndGlyphs">31 Jul 20:00</text>
<rect x="389" y="827" width="1" height="3" fill="#000"/>
<text x="387.8" y="839" fill="#000" stroke="#000" font-size="10" textLength="51.9" lengthAdjust="spacingAndGlyphs">1 Aug 12:00</text>
<rect x="453" y="827" width="1" height="3" fill="#000"/>
<text x="451.8" y="839" fill="#000" stroke="#000" font-size="10" textLength="51.9" lengthAdjust="spacingAndGlyphs">2 Aug 04:00</text>
<rect x="517" y="827" width="1" height="3" fill="#000"/>
<text x="515.8" y="839" fill="#000" stroke="#000" font-size="10" textLength="51.9" lengthAdjust="spacingAndGlyphs">2 Aug 20:00</text>
<rect x="581" y="827" width="1" height="3" fill="#000"/>
<text x="579.8" y="839" fill="#000" stroke="#000" font-size="10" textLength="51.9" lengthAdjust="spacingAndGlyphs">3 Aug 12:00</text>
<rect x="645" y="827" width="1" height="3" fill="#000"/>
<text x="643.8" y="839" fill="#000" stroke="#000" font-size="10" textLength="51.9" lengthAdjust="spacingAndGlyphs">4 Aug 04:00</text>
<rect x="709" y="827" width="1" height="3" fill="#000"/>
<text x="707.8" y="839" fill="#000" stroke="#000" font-size="10" textLength="51.9" lengthAdjust="spacingAndGlyphs">7 Aug 00:00</text>
<rect x="773" y="827" width="1" height="3" fill="#000"/>
<text x="771.8" y="839" fill="#000" stroke="#000" font-size="10" textLength="51.9" lengthAdjust="spacingAndGlyphs">7 Aug 16:00</text>
<rect x="837" y="827" width="1" height="3" fill="#000"/>
<text x="835.8" y="839" fill="#000" stroke="#000" font-size="10" textLength="51.9" lengthAdjust="spacingAndGlyphs">8 Aug 08:00</text>
<rect x="901" y="827" width="1" height="3" fill="#000"/>
<text x="899.8" y="839" fill="#000" stroke="#000" font-size="10" textLength="51.9" lengthAdjust="spacingAndGlyphs">9 Aug 00:00</text>
<rect x="965" y="827" width="1" height="3" fill="#000"/>
<text x="963.8" y="839" fill="#000" stroke="#000" font-size="10" textLength="51.9" lengthAdjust="spacingAndGlyphs">9 Aug 16:00</text>
<rect x="1029" y="827" width="1" height="3" fill="#000"/>
<text x="1027.8" y="839" fill="#000" stroke="#000" font-size="10" textLength="56.1" lengthAdjust="spacingAndGlyphs">10 Aug 08:00</text>
<rect x="1093" y="827" width="1" height="3" fill="#000"/>
<text x="1091.8" y="839" fill="#000" stroke="#000" font-size="10" textLength="56.1" lengthAdjust="spacingAndGlyphs">11 Aug 00:00</text>
<rect x="1157" y="827" width="1" height="3" fill="#000"/>
<text x="1155.8" y="839" fill="#000" stroke="#000" font-size="10" textLength="56.1" lengthAdjust="spacingAndGlyphs">11 Aug 16:00</text>
<rect x="1221" y="827" width="1" height="3" fill="#000"/>
<text x="1219.8" y="839" fill="#000" stroke="#000" font-size="10" textLength="56.1" lengthAdjust="spacingAndGlyphs">14 Aug 12:00</text>
<rect x="1285" y="827" width="1" height="3" fill="#000"/>
<text x="1283.8" y="839" fill="#000" stroke="#000" font-size="10" textLength="56.1" lengthAdjust="spacingAndGlyphs">15 Aug 04:00</text>
<rect x="1349" y="827" width="1" height="3" fill="#000"/>
<text x="1347.8" y="839" fill="#000" stroke="#000" font-size="10" textLength="56.1" lengthAdjust="spacingAndGlyphs">15 Aug 20:00</text>
</g>
<g id="toolbar">
<rect x="5" y="0" width="1" height="19" fill="#a0a0a0"/>
<g shape-rendering="geometricPrecision">
<path d="M15.5,1.5H23.5L26.5,4.5V14.5H15.5Z" fill="#fff" stroke="#6e6e6e"/><path d="M23.5,1.5V4.5H26.5" fill="#eee" stroke="#6e6e6e"/>
<rect x="17" y="3" width="2.5" height="1.5" fill="#777"/><rect x="17" y="7" width="6" height="1" fill="#888"/><rect x="17" y="9" width="5" height="1" fill="#888"/><rect x="17" y="11" width="2" height="1" fill="#888"/>
<path d="M23.5,7.5h3v4h4v3h-4v4h-3v-4h-4v-3h4z" fill="#22ee22" stroke="#0a7d0a" stroke-width="1" shape-rendering="crispEdges"/><path d="M24,8h1M20,12h4" stroke="#90ff90" stroke-width="1" shape-rendering="crispEdges"/>
</g>
<path transform="translate(34,2)" d="M2.5,0v1.5M0,2.5h5.5M1.2,3.4l0.8,1.4M4.3,3.4l-0.8,1.4M0,5.5h6M0.5,7.5h5M3,5.5v5.5M2.5,8.5l-2,2M3.5,8.5l2,1.5M10.5,0.3l-3,1.2M7.5,1.5v5l-1,4M7.5,5.5h3.8M9.8,5.5v5.5" fill="none" stroke="#111" stroke-width="1"/>
<path transform="translate(47,2)" d="M1,0.5l1.2,1.3M0,3.5h2v6l1.2,-1M4,1.5h7M8.3,1.5v8.5l-1.5,0" fill="none" stroke="#111" stroke-width="1"/>
<path transform="translate(58,2)" d="M3,0l1,1.5M8.5,0l-1,1.5M1.5,2.5h9v5h-9zM1.5,5h9M6,2.5v9M0,9h12" fill="none" stroke="#111" stroke-width="1"/>
<defs><linearGradient id="gbk" x1="0" y1="0" x2="0.3" y2="1"><stop offset="0" stop-color="#fff6a0"/><stop offset="0.45" stop-color="#f0c428"/><stop offset="1" stop-color="#d49a12"/></linearGradient><linearGradient id="gcl" x1="0" y1="0" x2="0" y2="1"><stop offset="0" stop-color="#ffffff"/><stop offset="1" stop-color="#bcc6da"/></linearGradient><linearGradient id="gbx" x1="0" y1="0" x2="1" y2="1"><stop offset="0" stop-color="#2a9af6"/><stop offset="1" stop-color="#0a78e0"/></linearGradient><linearGradient id="gck" x1="0" y1="0" x2="0" y2="1"><stop offset="0" stop-color="#48a8f8"/><stop offset="1" stop-color="#0848a8"/></linearGradient></defs>
<g shape-rendering="geometricPrecision"><path d="M87.4,2.4L96.8,8.4L97.6,11L89.8,16.4L82.2,10.8L86,6.5Z" fill="url(#gbk)" stroke="#a0640c" stroke-width="1"/><path d="M83.5,11.2L89.8,15.4" stroke="#f4dc90" stroke-width="1.6"/><path d="M90.5,15.2L97,10.6" stroke="#e8d8a0" stroke-width="1"/></g>
<g shape-rendering="geometricPrecision"><rect x="112.5" y="1.5" width="10" height="8.5" fill="url(#gbx)" stroke="#1a70d8" stroke-width="1"/><path d="M113,2.2l2.6,2.4v5.5M116.8,6.6h4.6" stroke="#e8f4ff" stroke-width="1" fill="none"/><path d="M111.8,16.2C110,16.2 110,12.6 112.3,12.6C112.6,11 114.6,10.4 116,11.2C117,9.2 120.4,9 121.4,11.2C123.2,10.6 125.6,11.6 125.2,13.6C126.2,14.6 125.6,16.2 124,16.2Z" fill="url(#gcl)" stroke="#34508a" stroke-width="1"/></g>
<g shape-rendering="geometricPrecision" fill="none"><path d="M146,9L146,16.6A7.6,7.6 0 0 0 153.6,9A7.6,7.6 0 0 0 146,1.4Z" fill="#cfe8cf" opacity=".9"/><circle cx="146" cy="9" r="7.3" stroke="#5278d4" stroke-width="1.3" opacity=".85"/><circle cx="146" cy="9" r="4.5" stroke="#86a4dc" stroke-width="1.2" opacity=".8"/><path d="M146,16.3A7.3,7.3 0 0 0 153.3,9" stroke="#2f9a3a" stroke-width="1.4"/><path d="M146,13.5A4.5,4.5 0 0 0 150.5,9" stroke="#6ab86a" stroke-width="1.2"/><circle cx="146" cy="9" r="1.9" fill="#2452c8"/><path d="M146.4,9.5V16.6" stroke="#1a9a1a" stroke-width="1.4"/></g>
<g shape-rendering="geometricPrecision"><path d="M166,8.5L180,8.5L173,16.5Z" fill="#f6dc50" stroke="#c89a18" stroke-width="1"/><ellipse cx="173" cy="5.8" rx="7.8" ry="2.6" fill="#5eb4e4" stroke="#1f7898" stroke-width="1"/><ellipse cx="172.8" cy="3.6" rx="3.8" ry="2.4" fill="#72c2ec" stroke="#1f7898" stroke-width="1"/><circle cx="177.4" cy="12.6" r="3.9" fill="#e0260e" stroke="#a01008" stroke-width="1"/><rect x="176" y="11.2" width="2.8" height="2.8" fill="#fff"/></g>
<path transform="translate(187,2)" d="M5,0l-1,1.5M1.5,1.5h8v9.5h-8zM1.5,4.7h8M1.5,7.8h8" fill="none" stroke="#111" stroke-width="1"/>
<path transform="translate(199,2)" d="M0.5,1.5h4M0,4.5h5M2.2,4.5l-2,5h5M4,7.3l1.2,2.2M6,3.5h5v7l-1.5,0M8.6,0.5v3.5l-2.6,6.5" fill="none" stroke="#111" stroke-width="1"/>
<path transform="translate(210.5,2)" d="M5.5,0v1.5M0,2.2h11M3.5,3.2l-2,2.3M7.5,3.2l2,2.3M2.5,5.5l8,5.5M8.5,5.5l-8,5.5" fill="none" stroke="#111" stroke-width="1"/>
<path transform="translate(222.5,2)" d="M2.5,0.5h6v4.5h-6zM2.5,2.75h6M2.5,5.5l-2.2,2.6M2,6.3h8.6v4.2l-1.5,0.5M5.2,6.3l-3,4.7M7.8,6.3l-3,4.7" fill="none" stroke="#111" stroke-width="1"/>
<rect x="241" y="0" width="1" height="19" fill="#a0a0a0"/>
<rect x="242" y="0" width="1" height="19" fill="#ffffff"/>
<rect x="245" y="1" width="3" height="1" fill="#8c8c8c"/>
<rect x="245" y="3" width="3" height="1" fill="#8c8c8c"/>
<rect x="245" y="5" width="3" height="1" fill="#8c8c8c"/>
<rect x="245" y="7" width="3" height="1" fill="#8c8c8c"/>
<rect x="245" y="9" width="3" height="1" fill="#8c8c8c"/>
<rect x="245" y="11" width="3" height="1" fill="#8c8c8c"/>
<rect x="245" y="13" width="3" height="1" fill="#8c8c8c"/>
<rect x="245" y="15" width="3" height="1" fill="#8c8c8c"/>
<rect x="245" y="17" width="3" height="1" fill="#8c8c8c"/>
<g fill="none" stroke="#555" stroke-width="1"><path d="M259.5,3.5V17.5M257,14.5H271"/><path d="M257.5,5.5l2,-2l2,2M269,12.5l2,2l-2,2"/></g>
<path d="M265.5,4V13M263,11.5H265.5M265.5,5.5H268" stroke="#0a8a0a" stroke-width="1" fill="none"/>
<rect x="279" y="0" width="1" height="19" fill="#a0a0a0"/>
<rect x="280" y="0" width="24" height="19" fill="#f7f7f7"/>
<rect x="279" y="0" width="1" height="19" fill="#a0a0a0"/>
<rect x="304" y="0" width="1" height="20" fill="#ffffff"/>
<rect x="279" y="19" width="26" height="1" fill="#ffffff"/>
<g fill="none" stroke="#555" stroke-width="1"><path d="M287.5,3.5V17.5M285,14.5H299"/><path d="M285.5,5.5l2,-2l2,2M297,12.5l2,2l-2,2"/></g>
<path d="M293.5,1V13" stroke="#0a8a0a"/><rect x="291.5" y="3.5" width="4" height="7" fill="#3ee03e" stroke="#0a8a0a"/>
<g fill="none" stroke="#555" stroke-width="1"><path d="M315.5,3.5V17.5M313,14.5H327"/><path d="M313.5,5.5l2,-2l2,2M325,12.5l2,2l-2,2"/></g>
<path d="M314,11.5C316,9,318,6,320.3,6.2C322.5,6.4,324,9.6,326,10" stroke="#2a9a2a" stroke-width="1" fill="none" shape-rendering="geometricPrecision"/>
<rect x="336" y="0" width="1" height="19" fill="#a0a0a0"/>
<g shape-rendering="geometricPrecision"><path d="M355,11L360,16" stroke="#a87a10" stroke-width="3.4" stroke-linecap="round"/><path d="M355,11L360,16" stroke="#f0d040" stroke-width="1.8" stroke-linecap="round"/><circle cx="351" cy="6.9" r="5.4" fill="#dcf2fb" stroke="#3a78c8" stroke-width="1.3"/><path d="M347.5,6.9h7" stroke="#4a88b8" stroke-width="1.8"/><path d="M351,3.4v7" stroke="#4a88b8" stroke-width="1.8"/></g>
<g shape-rendering="geometricPrecision"><path d="M383,11L388,16" stroke="#a87a10" stroke-width="3.4" stroke-linecap="round"/><path d="M383,11L388,16" stroke="#f0d040" stroke-width="1.8" stroke-linecap="round"/><circle cx="379" cy="6.9" r="5.4" fill="#dcf2fb" stroke="#3a78c8" stroke-width="1.3"/><path d="M375.5,6.9h7" stroke="#4a88b8" stroke-width="1.8"/></g>
<rect x="401" y="1" width="8" height="8" fill="#2f9a12"/><rect x="402" y="4" width="6" height="4" fill="#fff"/><rect x="403" y="5" width="4" height="1" fill="#2f9a12" opacity=".5"/><rect x="402" y="2" width="1" height="1" fill="#fff" opacity=".7"/>
<rect x="409" y="1" width="8" height="8" fill="#1d52d4"/><rect x="410" y="4" width="6" height="4" fill="#fff"/><rect x="411" y="5" width="4" height="1" fill="#1d52d4" opacity=".5"/><rect x="410" y="2" width="1" height="1" fill="#fff" opacity=".7"/>
<rect x="401" y="9" width="8" height="8" fill="#1d52d4"/><rect x="402" y="12" width="6" height="4" fill="#fff"/><rect x="403" y="13" width="4" height="1" fill="#1d52d4" opacity=".5"/><rect x="402" y="10" width="1" height="1" fill="#fff" opacity=".7"/>
<rect x="409" y="9" width="8" height="8" fill="#2f9a12"/><rect x="410" y="12" width="6" height="4" fill="#fff"/><rect x="411" y="13" width="4" height="1" fill="#2f9a12" opacity=".5"/><rect x="410" y="10" width="1" height="1" fill="#fff" opacity=".7"/>
<rect x="426" y="0" width="1" height="19" fill="#a0a0a0"/>
<rect x="432" y="0" width="24" height="19" fill="#f7f7f7"/>
<rect x="431" y="0" width="1" height="19" fill="#a0a0a0"/>
<rect x="456" y="0" width="1" height="20" fill="#ffffff"/>
<rect x="431" y="19" width="26" height="1" fill="#ffffff"/>
<g fill="none" stroke="#555" stroke-width="1"><path d="M439.5,3.5V17.5M437,14.5H451"/><path d="M437.5,5.5l2,-2l2,2M449,12.5l2,2l-2,2"/></g>
<path d="M444.5,5.5L448,8.5L444.5,11.5Z" fill="#50e050" stroke="#10a010"/>
<rect x="460" y="0" width="24" height="19" fill="#f7f7f7"/>
<rect x="459" y="0" width="1" height="19" fill="#a0a0a0"/>
<rect x="484" y="0" width="1" height="20" fill="#ffffff"/>
<rect x="459" y="19" width="26" height="1" fill="#ffffff"/>
<g fill="none" stroke="#555" stroke-width="1"><path d="M467.5,3.5V17.5M465,14.5H479"/><path d="M465.5,5.5l2,-2l2,2M477,12.5l2,2l-2,2"/></g>
<path d="M473.5,3V13" stroke="#1a6aa0" stroke-width="1.2"/><path d="M474.5,8.5L477.5,6V7.5H480V9.5H477.5V11Z" fill="#e85a10" stroke="#8a2a08" stroke-width=".6"/>
<rect x="488" y="0" width="1" height="19" fill="#a0a0a0"/>
<g shape-rendering="geometricPrecision"><path d="M498.5,1.5H506.5L509.5,4.5V14.5H498.5Z" fill="#fff" stroke="#6e6e6e"/><path d="M506.5,1.5V4.5H509.5" fill="#eee" stroke="#6e6e6e"/><path d="M503,4c-1,0,-1.5,1,-1.5,2v6M500.5,7.5h2.5" stroke="#333" stroke-width=".8" fill="none"/>
<path d="M506.5,7.5h3v4h4v3h-4v4h-3v-4h-4v-3h4z" fill="#22ee22" stroke="#0a7d0a" stroke-width="1" shape-rendering="crispEdges"/><path d="M507,8h1M503,12h4" stroke="#90ff90" stroke-width="1" shape-rendering="crispEdges"/>
</g>
<path d="M520,8h6l-3,3z" fill="#000"/>
<g shape-rendering="geometricPrecision"><circle cx="544" cy="8.9" r="6.4" fill="#f6f6f6" stroke="url(#gck)" stroke-width="3.1"/><g fill="#888"><rect x="543.6" y="4.3" width="0.8" height="0.8"/><rect x="539.4" y="8.5" width="0.8" height="0.8"/><rect x="547.8" y="8.5" width="0.8" height="0.8"/><rect x="543.6" y="12.7" width="0.8" height="0.8"/><rect x="541.2" y="11.6" width="0.8" height="0.8"/><rect x="546" y="11.6" width="0.8" height="0.8"/><rect x="541.2" y="5.6" width="0.8" height="0.8"/><rect x="546" y="5.6" width="0.8" height="0.8"/></g><path d="M543.3,5.2V9.1H547" stroke="#111" stroke-width="1.2" fill="none"/></g>
<path d="M559,8h6l-3,3z" fill="#000"/>
<g><rect x="575.5" y="2.5" width="15" height="13" fill="#fff" stroke="#3a78c8"/><rect x="576" y="3" width="14" height="2" fill="#6aa2e0"/><rect x="576" y="10" width="14" height="1" fill="#3a78c8"/><path d="M577,8.5l2,-0.5l2,-1.5l2,1.5l2,-0.5l2,-1.5l2,0" stroke="#a02010" fill="none" shape-rendering="geometricPrecision"/><path d="M577,13.5l2,-1l2,1l2,-2l2,1l2,-2l2,2" stroke="#1a901a" fill="none" shape-rendering="geometricPrecision"/></g>
<path d="M598,8h6l-3,3z" fill="#000"/>
<rect x="609" y="0" width="1" height="21" fill="#a0a0a0"/><rect x="610" y="0" width="1" height="21" fill="#ffffff"/>
<rect x="613" y="1" width="3" height="1" fill="#8c8c8c"/>
<rect x="613" y="3" width="3" height="1" fill="#8c8c8c"/>
<rect x="613" y="5" width="3" height="1" fill="#8c8c8c"/>
<rect x="613" y="7" width="3" height="1" fill="#8c8c8c"/>
<rect x="613" y="9" width="3" height="1" fill="#8c8c8c"/>
<rect x="613" y="11" width="3" height="1" fill="#8c8c8c"/>
<rect x="613" y="13" width="3" height="1" fill="#8c8c8c"/>
<rect x="613" y="15" width="3" height="1" fill="#8c8c8c"/>
<rect x="613" y="17" width="3" height="1" fill="#8c8c8c"/>
<rect x="619" y="0" width="1" height="19" fill="#a0a0a0"/>
<rect x="620" y="0" width="24" height="19" fill="#f7f7f7"/>
<rect x="619" y="0" width="1" height="19" fill="#a0a0a0"/>
<rect x="644" y="0" width="1" height="20" fill="#ffffff"/>
<rect x="619" y="19" width="26" height="1" fill="#ffffff"/>
<path d="M627.5,2V13L629.8,10.8L631.6,15.2L633.2,14.5L631.5,10.3L634.6,10Z" fill="#555" shape-rendering="geometricPrecision"/>
<path d="M652,9h6M661,9h6M659,2v5M659,11v6" stroke="#444" stroke-width="1" transform="translate(0,0.5)"/><rect x="659" y="9" width="1" height="1" fill="#777"/>
<rect x="659" y="2" width="1" height="5" fill="#444"/><rect x="659" y="11" width="1" height="6" fill="#444"/>
<rect x="676" y="0" width="1" height="19" fill="#a0a0a0"/>
<rect x="693" y="3" width="1" height="13" fill="#444"/>
<rect x="716" y="9" width="12" height="1" fill="#444"/>
<path d="M744,15.5L756,4" stroke="#555" stroke-width="1" shape-rendering="geometricPrecision"/>
<g shape-rendering="geometricPrecision" stroke="#444" stroke-width="1" fill="none"><path d="M770,10.5L777.5,3M771.5,14.5L782,5M775,15.5L783,8"/><path d="M772.5,9v6M775,7v6M777.5,5v6M780.5,1v6"/></g>
<text x="780.5" y="18" font-family="Liberation Sans, sans-serif" font-weight="bold" font-size="7" fill="#444">E</text>
<rect x="799" y="2" width="1" height="1" fill="#444"/>
<rect x="801" y="2" width="1" height="1" fill="#444"/>
<rect x="803" y="2" width="1" height="1" fill="#444"/>
<rect x="805" y="2" width="1" height="1" fill="#444"/>
<rect x="807" y="2" width="1" height="1" fill="#444"/>
<rect x="809" y="2" width="1" height="1" fill="#444"/>
<rect x="811" y="2" width="1" height="1" fill="#444"/>
<rect x="799" y="5" width="1" height="1" fill="#444"/>
<rect x="801" y="5" width="1" height="1" fill="#444"/>
<rect x="803" y="5" width="1" height="1" fill="#444"/>
<rect x="805" y="5" width="1" height="1" fill="#444"/>
<rect x="807" y="5" width="1" height="1" fill="#444"/>
<rect x="809" y="5" width="1" height="1" fill="#444"/>
<rect x="811" y="5" width="1" height="1" fill="#444"/>
<rect x="799" y="9" width="1" height="1" fill="#444"/>
<rect x="801" y="9" width="1" height="1" fill="#444"/>
<rect x="803" y="9" width="1" height="1" fill="#444"/>
<rect x="805" y="9" width="1" height="1" fill="#444"/>
<rect x="807" y="9" width="1" height="1" fill="#444"/>
<rect x="809" y="9" width="1" height="1" fill="#444"/>
<rect x="811" y="9" width="1" height="1" fill="#444"/>
<rect x="799" y="13" width="1" height="1" fill="#444"/>
<rect x="801" y="13" width="1" height="1" fill="#444"/>
<rect x="803" y="13" width="1" height="1" fill="#444"/>
<rect x="805" y="13" width="1" height="1" fill="#444"/>
<rect x="807" y="13" width="1" height="1" fill="#444"/>
<text x="808.5" y="18" font-family="Liberation Sans, sans-serif" font-weight="bold" font-size="7" fill="#444">F</text>
<text x="829.3" y="13.5" font-family="Liberation Sans, sans-serif" font-size="11.5" fill="#4a4a4a" stroke="#4a4a4a" stroke-width="0.5">A</text>
<rect x="856.5" y="2.5" width="11" height="13" fill="none" stroke="#555" stroke-dasharray="1 1"/>
<text x="858.2" y="13.5" font-family="Liberation Sans, sans-serif" font-size="11" fill="#4a4a4a" stroke="#4a4a4a" stroke-width="0.5">T</text>
<g shape-rendering="geometricPrecision" fill="#474747"><path d="M882.5,6.5L886,3L889.5,6.5L887.2,6.5L887.2,8L884.8,8L884.8,6.5Z"/><path d="M890,12.5L897.5,12.5L893.8,16.3Z"/><path d="M892.5,10.5h2.6v2h-2.6z"/><path d="M885.2,9.2L887.8,11.8L891.5,8.3" stroke="#474747" stroke-width="1.5" fill="none"/></g>
<path d="M904,8h6l-3,3z" fill="#000"/>
<rect x="915" y="0" width="1" height="21" fill="#a0a0a0"/><rect x="916" y="0" width="1" height="21" fill="#ffffff"/>
<rect x="919" y="1" width="3" height="1" fill="#8c8c8c"/>
<rect x="919" y="3" width="3" height="1" fill="#8c8c8c"/>
<rect x="919" y="5" width="3" height="1" fill="#8c8c8c"/>
<rect x="919" y="7" width="3" height="1" fill="#8c8c8c"/>
<rect x="919" y="9" width="3" height="1" fill="#8c8c8c"/>
<rect x="919" y="11" width="3" height="1" fill="#8c8c8c"/>
<rect x="919" y="13" width="3" height="1" fill="#8c8c8c"/>
<rect x="919" y="15" width="3" height="1" fill="#8c8c8c"/>
<rect x="919" y="17" width="3" height="1" fill="#8c8c8c"/>
<rect x="1066" y="0" width="24" height="19" fill="#f7f7f7"/>
<rect x="1065" y="0" width="1" height="19" fill="#a0a0a0"/>
<rect x="1090" y="0" width="1" height="20" fill="#ffffff"/>
<rect x="1065" y="19" width="26" height="1" fill="#ffffff"/>
<g font-family="Liberation Sans, sans-serif" font-size="10" fill="#3a3a3a">
<text transform="translate(929.7,13) scale(0.93,1)">M1</text>
<text transform="translate(957.7,13) scale(0.93,1)">M5</text>
<text transform="translate(984.2,13) scale(0.93,1)">M15</text>
<text transform="translate(1012.2,13) scale(0.93,1)">M30</text>
<text transform="translate(1043.2,13) scale(0.93,1)">H1</text>
<text transform="translate(1070.2,13) scale(0.93,1)">H4</text>
<text transform="translate(1099.2,13) scale(0.93,1)">D1</text>
<text transform="translate(1126.7,13) scale(0.93,1)">W1</text>
<text transform="translate(1153.2,13) scale(0.93,1)">MN</text>
</g>
<rect x="1176" y="0" width="1" height="21" fill="#a0a0a0"/><rect x="1177" y="0" width="1" height="21" fill="#ffffff"/>
<g shape-rendering="geometricPrecision"><circle cx="1646.4" cy="6.3" r="3.9" fill="#fff" stroke="#2a62d0" stroke-width="1.3"/><path d="M1643.6,9.2L1639.6,13.4" stroke="#2a62d0" stroke-width="2" stroke-linecap="round"/></g>
<g shape-rendering="geometricPrecision"><ellipse cx="1668.5" cy="11" rx="5.5" ry="4.5" fill="#e2e4ee" stroke="#9a9a9a" stroke-width="1"/><path d="M1666,15L1665.5,17.5L1668.5,15.3" fill="#e2e4ee" stroke="#888" stroke-width="1"/><circle cx="1677.3" cy="6.5" r="8.1" fill="#d9341c"/><text x="1674.2" y="10.8" font-family="Liberation Serif, serif" font-weight="bold" font-size="11" fill="#fff">1</text></g>
</g>
</svg>
</body></html>
